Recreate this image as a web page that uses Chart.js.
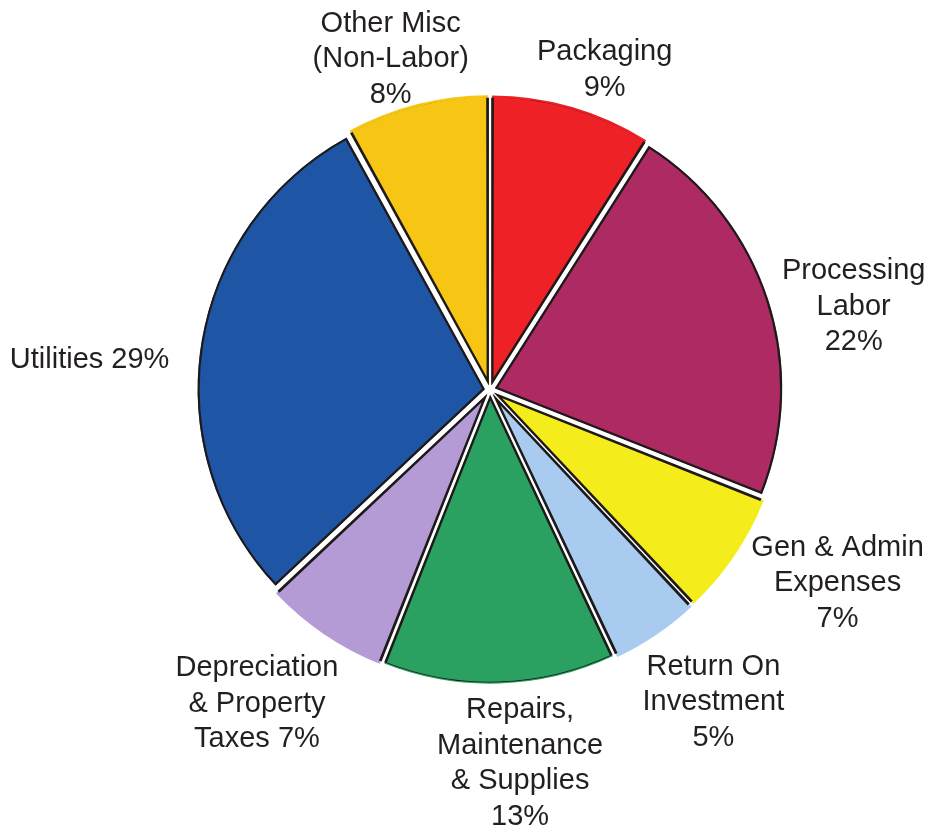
<!DOCTYPE html>
<html>
<head>
<meta charset="utf-8">
<script src="https://cdn.jsdelivr.net/npm/chart.js@4"></script>
<style>
  html, body { margin: 0; padding: 0; background: #fff; }
  #wrap { width: 928px; height: 831px; }
</style>
</head>
<body>
<div id="wrap"><canvas id="pie" width="928" height="831"></canvas></div>
<script>
// data, clockwise from 12 o'clock
const categories = [
  ['Packaging'],
  ['Processing', 'Labor'],
  ['Gen & Admin', 'Expenses'],
  ['Return On', 'Investment'],
  ['Repairs,', 'Maintenance', '& Supplies'],
  ['Depreciation', '& Property', 'Taxes'],
  ['Utilities'],
  ['Other Misc', '(Non-Labor)']
];
const shares = [9, 22, 7, 5, 13, 7, 29, 8];
const pctSameLine = [false, false, false, false, false, true, true, false];

const colors = ['#ee2127', '#ad2a63', '#f5ec1c', '#a9cbef', '#2aa061', '#b49bd6', '#1f55a5', '#f7c514'];

// label placement: angle tweak (deg) from slice middle, distance as multiple of radius
const labelTweak = [3.5, 5.1, -5.1, -1.4, -2.8, 2.4, -4.7, -2.3];
const labelDist  = [1.185, 1.30, 1.386, 1.337, 1.306, 1.362, 1.399, 1.204];

function labelLines(i) {
  const lines = categories[i].slice();
  if (pctSameLine[i]) lines[lines.length - 1] += ' ' + shares[i] + '%';
  else lines.push(shares[i] + '%');
  return lines;
}

const outsideLabels = {
  id: 'outsideLabels',
  afterDraw(chart) {
    const ctx = chart.ctx;
    const arcs = chart.getDatasetMeta(0).data;
    ctx.save();
    ctx.font = '29px "Liberation Sans", Arial, sans-serif';
    ctx.fillStyle = '#231f20';
    ctx.textAlign = 'center';
    ctx.textBaseline = 'middle';
    const lh = 35.5;
    arcs.forEach((arc, i) => {
      const p = arc.getProps(['x', 'y', 'startAngle', 'endAngle', 'outerRadius'], true);
      const a = (p.startAngle + p.endAngle) / 2 + labelTweak[i] * Math.PI / 180;
      const r = p.outerRadius * labelDist[i];
      const cx = p.x + Math.cos(a) * r;
      const cy = p.y + Math.sin(a) * r;
      const lines = labelLines(i);
      const top = cy - (lines.length - 1) * lh / 2;
      lines.forEach((t, k) => ctx.fillText(t, cx, top + k * lh));
    });
    ctx.restore();
  }
};

new Chart(document.getElementById('pie').getContext('2d'), {
  type: 'pie',
  data: {
    labels: categories.map(c => c.join(' ')),
    datasets: [{
      data: shares,
      backgroundColor: colors,
      borderColor: '#1e1a1a',
      borderWidth: 2,
      borderAlign: 'inner',
      offset: 22
    }]
  },
  options: {
    responsive: false,
    animation: false,
    layout: { padding: { left: 192, right: 140, top: 92, bottom: 143 } },
    plugins: {
      legend: { display: false },
      tooltip: { enabled: false }
    }
  },
  plugins: [outsideLabels]
});
</script>
</body>
</html>
